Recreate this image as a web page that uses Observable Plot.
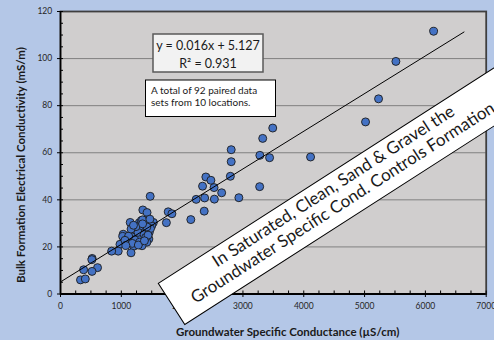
<!DOCTYPE html>
<html>
<head>
<meta charset="utf-8">
<script src="https://cdn.jsdelivr.net/npm/d3@7"></script>
<script src="https://cdn.jsdelivr.net/npm/@observablehq/plot@0.6"></script>
<style>
  html, body { margin: 0; padding: 0; background: #b4c7e7; }
  #chart svg { display: block; }
</style>
</head>
<body>
<div id="chart"></div>
<script>
// Groundwater specific conductance (µS/cm) paired with bulk formation EC (mS/m)
const gwSpecCond = [
  6135, 5515, 5230, 5016, 3490, 3325, 3278, 3438, 4112, 3275,
  2933, 2807, 2807, 2793, 2390, 2473, 2336, 2525, 2650, 2231,
  2370, 2530, 2363, 2143, 1771, 1832, 1741, 1475, 1354, 1423,
  1146, 1296, 1441, 1527, 1500, 1261, 1360, 1431, 1398, 1321,
  1031, 1200, 1022, 1261, 1354, 1453, 1096, 1294, 1250, 1420,
  978, 1090, 1204, 1340, 1160, 949, 841, 521, 515, 380,
  609, 518, 329, 408,
  1180, 1230, 1310, 1385, 1275, 1150, 1375, 1460, 1410, 1330,
  1220, 1300, 1120, 1060, 1400, 1480, 1240, 1350, 1180, 1280,
  1420, 1350, 1440, 1160, 1200, 1075, 1470, 1380
];
const bulkEC = [
  111.6, 98.8, 82.9, 73.1, 70.5, 66.1, 58.9, 57.9, 58.2, 45.6,
  40.9, 61.3, 56.2, 50.0, 49.7, 48.3, 45.8, 45.2, 43.0, 40.2,
  40.8, 40.3, 35.2, 31.6, 34.9, 34.1, 30.3, 41.5, 35.7, 34.6,
  30.4, 30.3, 30.8, 30.4, 29.0, 28.4, 27.8, 27.3, 26.6, 26.6,
  25.4, 25.2, 24.5, 24.2, 24.2, 23.4, 23.2, 23.5, 22.0, 22.0,
  21.1, 21.4, 20.3, 20.5, 17.5, 18.2, 18.2, 15.1, 14.6, 10.3,
  11.2, 9.6, 6.0, 6.4,
  26.0, 27.2, 28.9, 29.6, 26.2, 22.6, 25.2, 26.2, 31.4, 31.2,
  23.0, 22.0, 24.6, 22.8, 24.0, 27.8, 28.6, 31.5, 21.5, 20.8,
  28.5, 29.8, 25.0, 27.6, 29.2, 20.6, 31.8, 22.6
];

// Linear fit reported on the chart
const slope = 0.016;
const intercept = 5.127;
const rSquared = 0.931;
const forecastForward = 500;

// Axis ticks
const xMajor = [0, 1000, 2000, 3000, 4000, 5000, 6000, 7000];
const xMinor = d3.range(250, 7000, 250).filter(v => v % 1000 !== 0);
const yMajor = [0, 20, 40, 60, 80, 100, 120];
const yMinor = d3.range(5, 120, 5).filter(v => v % 20 !== 0);
const yGrid = [20, 40, 60, 80, 100];

const points = gwSpecCond.map((x, i) => ({x, y: bulkEC[i]}));
const xMax = d3.max(gwSpecCond) + forecastForward;
const trend = [0, xMax].map(x => ({x, y: slope * x + intercept}));

const plot = Plot.plot({
  width: 494,
  height: 340,
  marginLeft: 60,
  marginRight: 8.3,
  marginTop: 11,
  marginBottom: 46.5,
  style: {background: "#b4c7e7", fontFamily: "Lato", fontSize: "8.5px", color: "#262626"},
  x: {domain: [0, 7000]},
  y: {domain: [0, 120]},
  marks: [
    Plot.frame({fill: "#d0cece", stroke: null}),
    Plot.gridY(yGrid, {stroke: "#808080", strokeOpacity: 1, strokeWidth: 1}),
    Plot.dot(points, {x: "x", y: "y", r: 4, fill: "#4472c4", stroke: "#1c1c1c", strokeWidth: 0.9}),
    Plot.line(trend, {x: "x", y: "y", stroke: "#000", strokeWidth: 1}),
    Plot.frame({stroke: "#3f3f3f", strokeWidth: 1.8}),
    Plot.ruleX([0], {stroke: "#000", strokeWidth: 1.5}),
    Plot.ruleY([0], {stroke: "#000", strokeWidth: 2}),
    // y axis: major ticks cross the axis, minor ticks point inward
    Plot.axisY({ticks: yMajor, tickSize: 6, dx: 3, tickPadding: 5.3, tickFormat: d => String(d), label: null, stroke: "#000"}),
    Plot.axisY({ticks: yMinor, tickSize: 3, dx: 3, tickFormat: () => "", label: null, stroke: "#000"}),
    // x axis
    Plot.axisX({ticks: xMajor, tickSize: 6.5, dy: -3, tickPadding: 5.7, tickFormat: d => String(d), label: null, stroke: "#000"}),
    Plot.axisX({ticks: xMinor, tickSize: 3, dy: -3, tickFormat: () => "", label: null, stroke: "#000"})
  ]
});

const svg = d3.select(plot);
const ann = svg.append("g").attr("font-family", "Lato").attr("fill", "#1a1a1a").attr("text-anchor", "start");

// Axis titles
ann.append("text")
  .attr("transform", "translate(25,165) rotate(-90)")
  .attr("text-anchor", "middle")
  .attr("font-weight", "bold")
  .attr("font-size", "11.5px")
  .text("Bulk Formation Electrical Conductivity (mS/m)");
ann.append("text")
  .attr("x", 287.7).attr("y", 336)
  .attr("text-anchor", "middle")
  .attr("font-weight", "bold")
  .attr("font-size", "11.5px")
  .text("Groundwater Specific Conductance (µS/cm)");

// Regression equation box
const eq = ann.append("g");
eq.append("rect").attr("x", 153).attr("y", 34).attr("width", 110).attr("height", 38)
  .attr("fill", "#f2f2f2").attr("stroke", "#595959").attr("stroke-width", 1.5);
eq.append("text").attr("x", 208).attr("y", 49.5).attr("text-anchor", "middle").attr("font-size", "12.5px")
  .text(`y = ${slope.toFixed(3)}x + ${intercept.toFixed(3)}`);
eq.append("text").attr("x", 208).attr("y", 67.5).attr("text-anchor", "middle").attr("font-size", "12.5px")
  .text(`R² = ${rSquared.toFixed(3)}`);

// Sample count note
const note = ann.append("g");
note.append("rect").attr("x", 145.5).attr("y", 80).attr("width", 130).attr("height", 36.5)
  .attr("fill", "#fff").attr("stroke", "#000").attr("stroke-width", 1);
note.append("text").attr("x", 151).attr("y", 93.5).attr("font-size", "10px").attr("text-anchor", "start").text("A total of 92 paired data");
note.append("text").attr("x", 151).attr("y", 105.5).attr("font-size", "10px").attr("text-anchor", "start").text("sets from 10 locations.");

// Rotated callout
const callout = ann.append("g").attr("transform", "translate(158.3,283.3) rotate(-32.7)");
callout.append("rect").attr("x", 0).attr("y", 0).attr("width", 520).attr("height", 49)
  .attr("fill", "#fff").attr("stroke", "#000").attr("stroke-width", 1);
callout.append("text").attr("x", 58).attr("y", 18.5).attr("font-size", "17px").attr("text-anchor", "start")
  .text("In Saturated, Clean, Sand & Gravel the");
callout.append("text").attr("x", 20).attr("y", 37.5).attr("font-size", "17px").attr("text-anchor", "start")
  .text("Groundwater Specific Cond. Controls Formation EC");

document.getElementById("chart").append(plot);
</script>
</body>
</html>
